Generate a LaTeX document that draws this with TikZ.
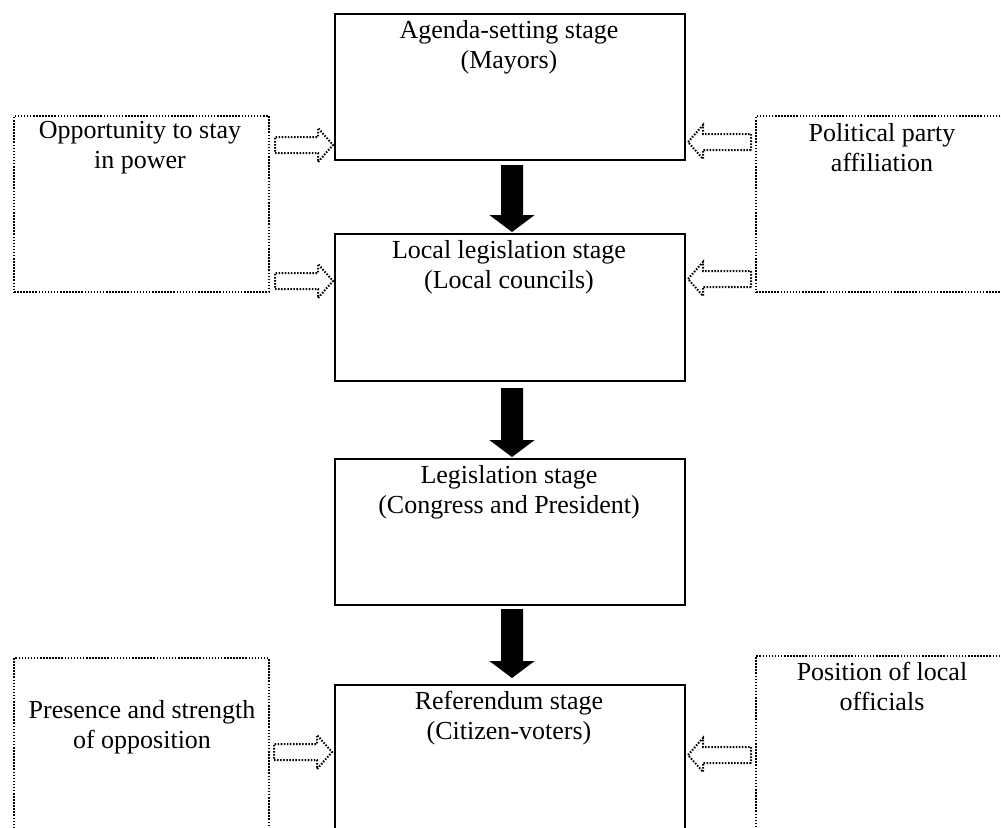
\documentclass[tikz,border=0pt]{standalone}
\usepackage{fontspec}
\setmainfont{Liberation Serif}
\usetikzlibrary{calc}
\newcommand\blkarrow[2]{%
  \fill let \p1=(#1), \p2=(#2) in
    (\x1-8.25pt,\y1) -- (\x1+8.25pt,\y1) -- (\x1+8.25pt,\y2+12.75pt) --
    (\x1+17pt,\y2+12.75pt) -- (\x1,\y2) -- (\x1-17pt,\y2+12.75pt) --
    (\x1-8.25pt,\y2+12.75pt) -- cycle;}
\newcommand\hollowarrow[2]{%
  \draw[dotline] let \p1=(#1), \p2=(#2), \n1={sign(\x2-\x1)} in
    (\x1,\y1-6pt) -- (\x2-\n1*11.25pt,\y1-6pt) -- (\x2-\n1*11.25pt,\y1-12.75pt) --
    (\x2,\y1) -- (\x2-\n1*11.25pt,\y1+12.75pt) -- (\x2-\n1*11.25pt,\y1+6pt) --
    (\x1,\y1+6pt) -- cycle;}
\begin{document}
\begin{tikzpicture}[x=0.75pt,y=-0.75pt,
  every node/.style={font=\fontsize{19.5}{22.5}\selectfont},
  stagebox/.style={draw, line width=1.5pt, anchor=north west, inner sep=0pt,
    minimum width=262.5pt},
  dotline/.style={line width=1.5pt, dash pattern=on 1.15pt off 1.15pt},
  factorbox/.style={dotline, draw, anchor=north west, inner sep=0pt,
    minimum width=191.25pt},
  txt/.style={align=center, anchor=base, inner sep=0pt}]
\clip (0,0) rectangle (1001,828);
\fill[white] (0,0) rectangle (1001,828);
% stage boxes
\node[stagebox, minimum height=109.5pt] (b1) at (334,13) {};
\node[stagebox, minimum height=110.25pt] (b2) at (334,233) {};
\node[stagebox, minimum height=109.5pt] (b3) at (334,458) {};
\node[stagebox, minimum height=117pt] (b4) at (334,684) {};
% factor boxes
\node[factorbox, minimum height=132pt] (tl) at (13,115) {};
\node[factorbox, minimum height=132pt] (tr) at (755,115) {};
\node[factorbox, minimum height=137.25pt] (bl) at (13,657) {};
\node[factorbox, minimum height=138.75pt] (br) at (755,655) {};
% texts (anchor = baseline of the last line)
\node[txt] (t1) at (509,68) {Agenda-setting stage\\(Mayors)};
\node[txt] (t2) at (509,288) {Local legislation stage\\(Local councils)};
\node[txt] (t3) at (509,513) {Legislation stage\\(Congress and President)};
\node[txt] (t4) at (509,739) {Referendum stage\\(Citizen-voters)};
\node[txt] (ttl) at (140,168) {Opportunity to stay\\in power};
\node[txt] (ttr) at (882,171) {Political party\\affiliation};
\node[txt] (tbl) at (142,748) {Presence and strength\\of opposition};
\node[txt] (tbr) at (882,710) {Position of local\\officials};
% black arrows
\coordinate (a1s) at (512,165); \coordinate (a1e) at (512,232);
\coordinate (a2s) at (512,388); \coordinate (a2e) at (512,457);
\coordinate (a3s) at (512,609); \coordinate (a3e) at (512,678);
\blkarrow{a1s}{a1e}
\blkarrow{a2s}{a2e}
\blkarrow{a3s}{a3e}
% hollow dotted arrows
\coordinate (h1s) at (275,145); \coordinate (h1e) at (333,145);
\coordinate (h2s) at (275,281); \coordinate (h2e) at (333,281);
\coordinate (h3s) at (751,142); \coordinate (h3e) at (688,142);
\coordinate (h4s) at (751,279); \coordinate (h4e) at (688,279);
\coordinate (h5s) at (274,752); \coordinate (h5e) at (332,752);
\coordinate (h6s) at (751,755); \coordinate (h6e) at (688,755);
\hollowarrow{h1s}{h1e}
\hollowarrow{h2s}{h2e}
\hollowarrow{h3s}{h3e}
\hollowarrow{h4s}{h4e}
\hollowarrow{h5s}{h5e}
\hollowarrow{h6s}{h6e}
\end{tikzpicture}
\end{document}
